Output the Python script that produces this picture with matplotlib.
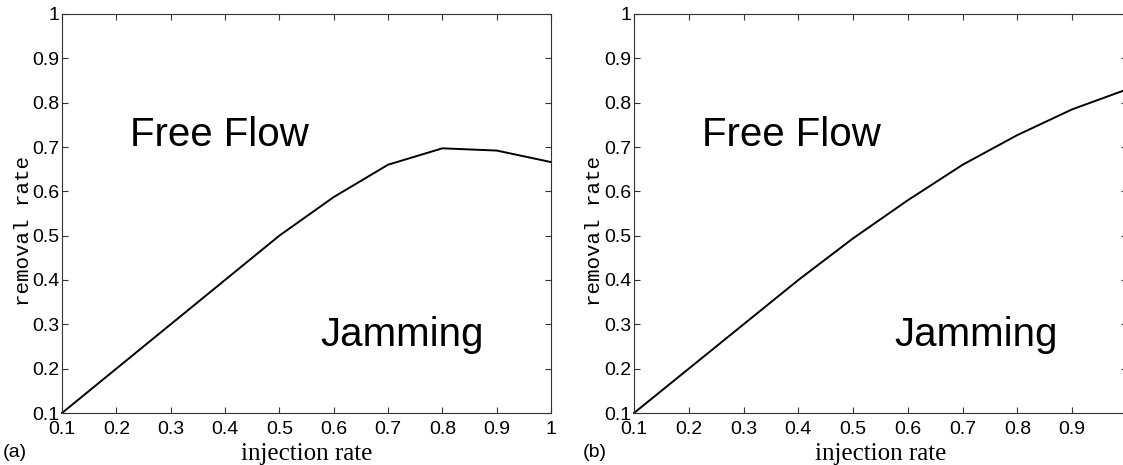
import matplotlib
matplotlib.use('Agg')
import matplotlib.pyplot as plt

# injection rate vs removal rate, two cases
injection = [0.1, 0.2, 0.3, 0.4, 0.5, 0.6, 0.7, 0.8, 0.9, 1.0]
removal_a = [0.1, 0.2, 0.3, 0.4, 0.5, 0.587, 0.66, 0.697, 0.692, 0.666]
removal_b = [0.1, 0.2, 0.3, 0.4, 0.494, 0.58, 0.66, 0.727, 0.785, 0.83]
ticks = [0.1, 0.2, 0.3, 0.4, 0.5, 0.6, 0.7, 0.8, 0.9, 1.0]
tick_labels = ['0.1', '0.2', '0.3', '0.4', '0.5', '0.6', '0.7', '0.8', '0.9', '1']
panel_names = ['(a)', '(b)']

W, H = 1123, 465
fig = plt.figure(figsize=(W / 100, H / 100), dpi=100)

def px_axes(x0, x1, y0, y1):
    # pixel box -> figure fraction
    return fig.add_axes([x0 / W, 1 - y1 / H, (x1 - x0) / W, (y1 - y0) / H])

axes = [px_axes(62, 551, 14, 413), px_axes(634, 1127, 14, 413)]
sans = 'Liberation Sans'

for ax, ys, name in zip(axes, [removal_a, removal_b], panel_names):
    ax.plot(injection, ys, color='black', lw=1.4, clip_on=False)
    ax.set_xlim(0.1, 1.0)
    ax.set_ylim(0.1, 1.0)
    ax.set_xticks(ticks)
    ax.set_xticklabels(tick_labels, family=sans, fontsize=14)
    ax.set_yticks(ticks)
    ax.set_yticklabels(tick_labels, family=sans, fontsize=14)
    ax.tick_params(direction='in', length=4, width=0.8, top=True, right=True,
                   pad=2, color='#333333')
    ax.tick_params(axis='x', pad=6)
    for sp in ax.spines.values():
        sp.set_linewidth(0.8)
        sp.set_color('#333333')
    ax.set_xlabel('injection rate', family='Liberation Serif', fontsize=18, labelpad=3)
    ax.set_ylabel('removal rate', family='Liberation Mono', fontsize=15)
    ax.yaxis.set_label_coords(-0.06, 0.455)
    ax.text(0.225, 0.702, 'Free Flow', family=sans, fontsize=29,
            ha='left', va='baseline')
    ax.text(0.576, 0.252, 'Jamming', family=sans, fontsize=29,
            ha='left', va='baseline')

fig.text(3 / W, 1 - 452 / H, '(a)', family=sans, fontsize=14, ha='left', va='center')
fig.text(595 / W, 1 - 452 / H, '(b)', family=sans, fontsize=14, ha='center', va='center')

fig.savefig('out.png', dpi=100)
